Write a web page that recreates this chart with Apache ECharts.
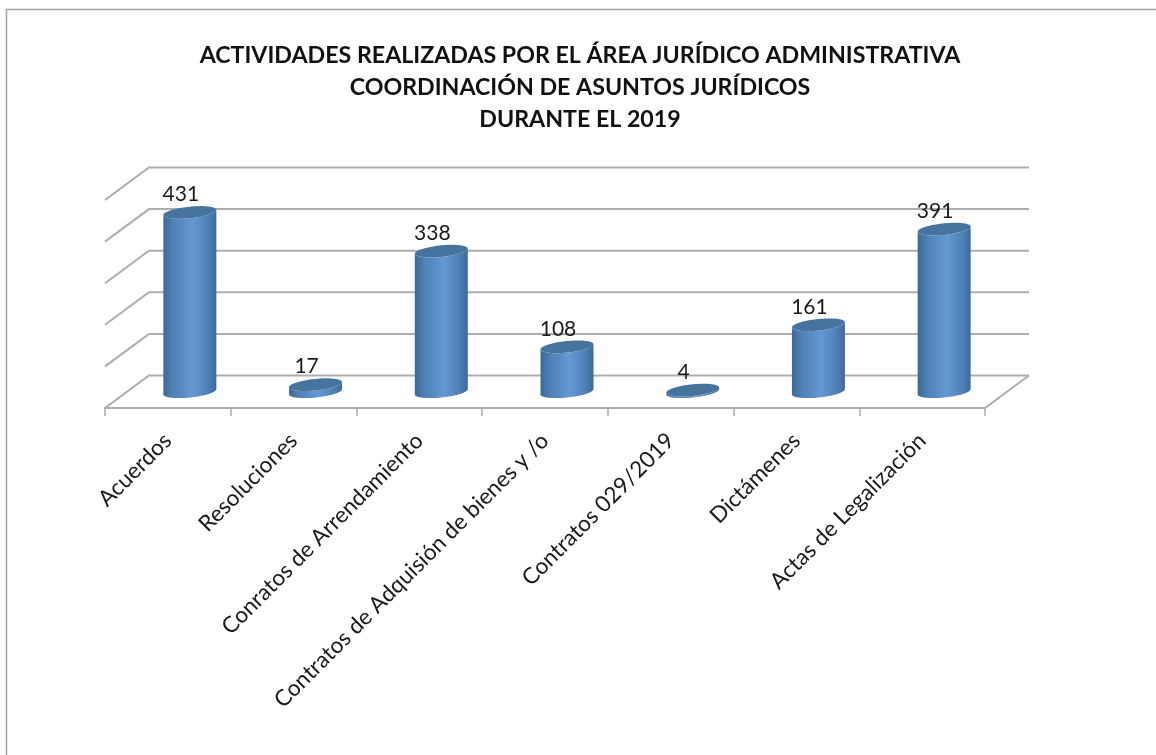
<!DOCTYPE html>
<html>
<head>
<meta charset="utf-8">
<title>Actividades 2019</title>
<script src="https://cdn.jsdelivr.net/npm/echarts@6/dist/echarts.min.js"></script>
<style>
  html, body { margin: 0; padding: 0; background: #fff; }
  #main { width: 1156px; height: 755px; }
</style>
</head>
<body>
<div id="main"></div>
<script>
var categories = ['Acuerdos', 'Resoluciones', 'Conratos de Arrendamiento', 'Contratos de Adquisión de bienes y /o', 'Contratos 029/2019', 'Dictámenes', 'Actas de Legalización'];
var values = [431, 17, 338, 108, 4, 161, 391];
var gridValues = [0, 100, 200, 300, 400, 500];
var chartTitle = 'ACTIVIDADES REALIZADAS POR EL ÁREA JURÍDICO ADMINISTRATIVA\nCOORDINACIÓN DE ASUNTOS JURÍDICOS\nDURANTE EL 2019';

// fondo del falso 3D
var depthX = 44, depthY = 32.5;
var fontName = 'Lato, "Open Sans", sans-serif';

// puntos de la elipse inclinada del cilindro
function ellipsePoints(cx, cy, from, to) {
    var pts = [], n = 40;
    for (var i = 0; i <= n; i++) {
        var t = from + (to - from) * i / n;
        pts.push([cx + 26.5 * Math.cos(t), cy + 5.8 * Math.sin(t) - 2.6 * Math.cos(t)]);
    }
    return pts;
}

function renderWall(params, api) {
    var p = api.coord([0, api.value(1)]);
    var half = api.size([1, 0])[0] / 2;
    var left = p[0] - half;
    var right = left + half * 2 * categories.length;
    var style = { fill: null, stroke: '#adadad', lineWidth: 2 };
    var children = [{
        type: 'polyline',
        shape: { points: [[left, p[1]], [left + depthX, p[1] - depthY], [right + depthX, p[1] - depthY]] },
        style: style
    }];
    if (api.value(1) === 0) {
        children.push({
            type: 'polyline',
            shape: { points: [[right, p[1]], [right + depthX, p[1] - depthY]] },
            style: style
        });
    }
    return { type: 'group', children: children };
}

function renderCylinder(params, api) {
    var top = api.coord([api.value(0), api.value(1)]);
    var base = api.coord([api.value(0), 0]);
    var cx = top[0] + depthX / 2;
    var topY = top[1] - depthY / 2;
    var baseY = base[1] - depthY / 2;
    var body = ellipsePoints(cx, baseY, 0, Math.PI).concat(ellipsePoints(cx, topY, Math.PI, 0));
    return {
        type: 'group',
        children: [{
            type: 'polygon',
            shape: { points: body },
            style: {
                fill: new echarts.graphic.LinearGradient(0, 0, 1, 0, [
                    { offset: 0, color: '#3b6998' },
                    { offset: 0.18, color: '#4f80b5' },
                    { offset: 0.55, color: '#6499d4' },
                    { offset: 0.85, color: '#4e7fb4' },
                    { offset: 1, color: '#3c6a99' }
                ])
            }
        }, {
            type: 'polygon',
            shape: { points: ellipsePoints(cx, topY, 0, Math.PI * 2) },
            style: { fill: '#47739f' }
        }, {
            type: 'text',
            style: {
                text: String(api.value(1)),
                x: cx - 9,
                y: topY - 18,
                align: 'center',
                verticalAlign: 'middle',
                fill: '#1a1a1a',
                font: '21px ' + fontName
            }
        }]
    };
}

var option = {
    animation: false,
    backgroundColor: '#fff',
    title: {
        text: chartTitle,
        left: 575,
        top: 35,
        textAlign: 'center',
        textStyle: { fontFamily: fontName, fontSize: 23.2, fontWeight: 'bold', color: '#111', lineHeight: 32 }
    },
    grid: { left: 105, width: 880, top: 200, height: 208 },
    xAxis: {
        type: 'category',
        data: categories,
        axisLine: { lineStyle: { color: '#adadad', width: 2 } },
        axisTick: { show: true, alignWithLabel: false, length: 8, lineStyle: { color: '#adadad', width: 1.5 } },
        axisLabel: { rotate: 45, interval: 0, margin: 29, fontFamily: fontName, fontSize: 22.5, color: '#1a1a1a' }
    },
    yAxis: {
        type: 'value',
        min: 0,
        max: 500,
        interval: 100,
        axisLabel: { show: false },
        axisLine: { show: false },
        axisTick: { show: false },
        splitLine: { show: false }
    },
    graphic: [{
        type: 'polyline',
        shape: { points: [[6.5, 755], [6.5, 9.5], [1156, 9.5]] },
        style: { fill: null, stroke: '#a3a3a3', lineWidth: 1.5 }
    }],
    series: [{
        type: 'custom',
        renderItem: renderWall,
        data: gridValues.map(function (v) { return [0, v]; }),
        encode: { x: 0, y: 1 },
        z: 1
    }, {
        type: 'custom',
        renderItem: renderCylinder,
        data: values.map(function (v, i) { return [i, v]; }),
        encode: { x: 0, y: 1 },
        z: 2
    }]
};

var myChart = echarts.init(document.getElementById('main'));
myChart.setOption(option);
</script>
</body>
</html>
